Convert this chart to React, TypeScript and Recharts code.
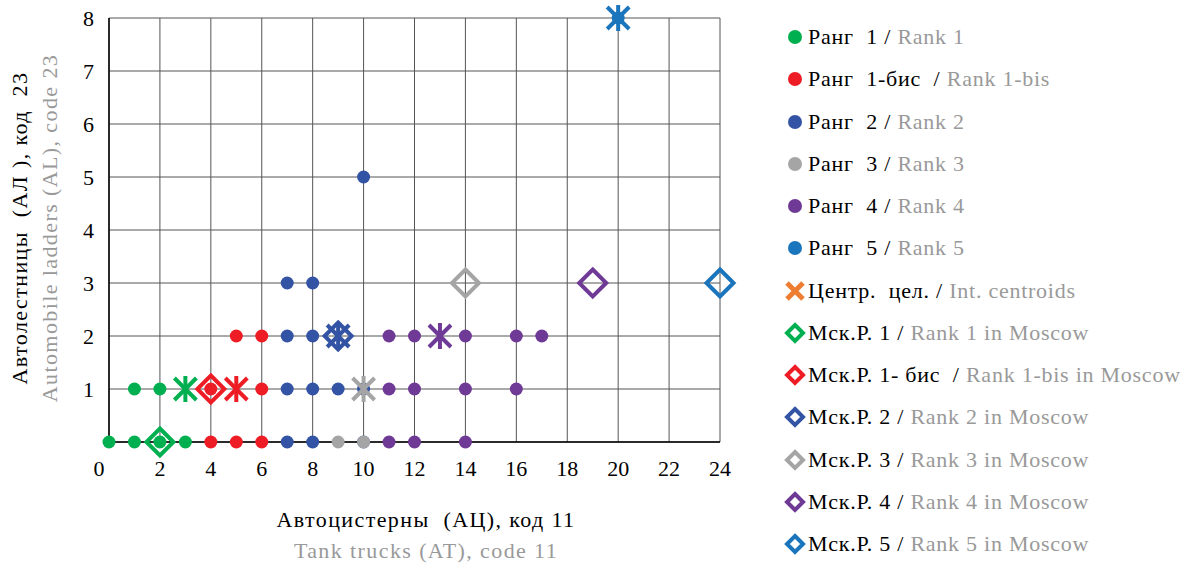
import React from "react";
import { ScatterChart, Scatter, XAxis, YAxis, CartesianGrid } from "recharts";

// observations per rank (x = tank trucks, y = automobile ladders)
const rank1X = [0, 1, 2, 3, 1, 2];
const rank1Y = [0, 0, 0, 0, 1, 1];
const rank1bisX = [4, 5, 6, 4, 6, 5, 6];
const rank1bisY = [0, 0, 0, 1, 1, 2, 2];
const rank2X = [7, 8, 10, 7, 8, 9, 10, 7, 8, 7, 8, 10];
const rank2Y = [0, 0, 0, 1, 1, 1, 1, 2, 2, 3, 3, 5];
const rank3X = [9, 10];
const rank3Y = [0, 0];
const rank4X = [11, 12, 14, 11, 12, 14, 16, 11, 12, 14, 16, 17];
const rank4Y = [0, 0, 0, 1, 1, 1, 1, 2, 2, 2, 2, 2];
const rank5X = [20];
const rank5Y = [8];

// centroids and Moscow values, one per rank
const centroidX = [3, 5, 9, 10, 13, 20];
const centroidY = [1, 1, 2, 1, 2, 8];
const moscowX = [2, 4, 9, 14, 19, 24];
const moscowY = [0, 1, 2, 3, 3, 3];

const xTicks = [0, 2, 4, 6, 8, 10, 12, 14, 16, 18, 20, 22, 24];
const yTicks = [0, 1, 2, 3, 4, 5, 6, 7, 8];

const rankNamesRu = ["Ранг  1", "Ранг  1-бис ", "Ранг  2", "Ранг  3", "Ранг  4", "Ранг  5"];
const rankNamesEn = ["Rank 1", "Rank 1-bis", "Rank 2", "Rank 3", "Rank 4", "Rank 5"];
const moscowNamesRu = ["Мск.Р. 1", "Мск.Р. 1- бис ", "Мск.Р. 2", "Мск.Р. 3", "Мск.Р. 4", "Мск.Р. 5"];

const COLORS = ["#00b050", "#ee1c25", "#3353a4", "#a5a5a5", "#6f3996", "#1b75bc"];
const ORANGE = "#ed7d31";
const FONT = "'Liberation Serif', Tinos, 'Times New Roman', Times, 'DejaVu Serif', serif";
const GREY_TEXT = "#999999";

const zip = (xs: number[], ys: number[], i: number) =>
  xs.map((x, k) => ({ x, y: ys[k], i }));

const rankData = [
  zip(rank1X, rank1Y, 0),
  zip(rank1bisX, rank1bisY, 1),
  zip(rank2X, rank2Y, 2),
  zip(rank3X, rank3Y, 3),
  zip(rank4X, rank4Y, 4),
  zip(rank5X, rank5Y, 5),
];
const centroidData = zip(centroidX, centroidY, 0).map((d, k) => ({ ...d, i: k }));
const moscowData = zip(moscowX, moscowY, 0).map((d, k) => ({ ...d, i: k }));

const Dot = (props: any) => {
  const { cx, cy, payload } = props;
  return <circle cx={cx} cy={cy} r={6.5} fill={COLORS[payload.i]} />;
};

const Star = (props: any) => {
  const { cx, cy, payload } = props;
  const c = COLORS[payload.i];
  return (
    <g stroke={c} strokeWidth={4}>
      <line x1={cx} y1={cy - 13} x2={cx} y2={cy + 13} />
      <line x1={cx - 11} y1={cy - 11} x2={cx + 11} y2={cy + 11} />
      <line x1={cx - 11} y1={cy + 11} x2={cx + 11} y2={cy - 11} />
    </g>
  );
};

const Diamond = (props: any) => {
  const { cx, cy, payload } = props;
  const s = 13.5;
  return (
    <polygon
      points={`${cx},${cy - s} ${cx + s},${cy} ${cx},${cy + s} ${cx - s},${cy}`}
      fill="none"
      stroke={COLORS[payload.i]}
      strokeWidth={4}
    />
  );
};

const XTick = (props: any) => {
  const { x, y, payload } = props;
  return (
    <text
      x={x + (payload.value === 0 ? -10 : 0)}
      y={y}
      dy={14}
      textAnchor="middle"
      fontSize={22}
      style={{ fontFamily: FONT }}
      fill="#000"
    >
      {payload.value}
    </text>
  );
};

const LegendMarker = ({ kind, color }: { kind: string; color: string }) => (
  <svg width={22} height={22} style={{ marginRight: 2 }}>
    {kind === "dot" && <circle cx={11} cy={11} r={7} fill={color} />}
    {kind === "star" && (
      <g stroke={color} strokeWidth={5}>
        <line x1={3} y1={3} x2={19} y2={19} />
        <line x1={3} y1={19} x2={19} y2={3} />
      </g>
    )}
    {kind === "diamond" && (
      <polygon points="11,3 19,11 11,19 3,11" fill="none" stroke={color} strokeWidth={4} />
    )}
  </svg>
);

const legendItems = [
  ...rankNamesRu.map((ru, k) => ({ kind: "dot", color: COLORS[k], ru, en: rankNamesEn[k] })),
  { kind: "star", color: ORANGE, ru: "Центр.  цел.", en: "Int. centroids" },
  ...moscowNamesRu.map((ru, k) => ({
    kind: "diamond",
    color: COLORS[k],
    ru,
    en: rankNamesEn[k] + " in Moscow",
  })),
];

export default function App() {
  return (
    <div
      style={{
        position: "absolute",
        left: 0,
        top: 0,
        width: 1188,
        height: 566,
        background: "#fff",
        fontFamily: FONT,
      }}
    >
      <ScatterChart
        width={760}
        height={566}
        margin={{ top: 18, right: 40, bottom: 94, left: 49 }}
        style={{ fontFamily: FONT }}
      >
        <CartesianGrid stroke="#555" strokeWidth={1} horizontalValues={yTicks} verticalValues={xTicks} />
        <XAxis
          type="number"
          dataKey="x"
          domain={[0, 24]}
          ticks={xTicks}
          interval={0}
          height={30}
          tickLine={false}
          tickSize={0}
          tickMargin={20}
          axisLine={{ stroke: "#000", strokeWidth: 1.5 }}
          tick={<XTick />}
        />
        <YAxis
          type="number"
          dataKey="y"
          domain={[0, 8]}
          ticks={yTicks}
          interval={0}
          width={60}
          tickLine={false}
          tickSize={0}
          tickMargin={15}
          axisLine={{ stroke: "#000", strokeWidth: 1.5 }}
          tickFormatter={(v: number) => (v === 0 ? "" : String(v))}
          tick={{ fontSize: 22, fill: "#000", style: { fontFamily: FONT } }}
        />
        {rankData.map((d, k) => (
          <Scatter key={"r" + k} data={d} shape={<Dot />} isAnimationActive={false} />
        ))}
        <Scatter data={moscowData} shape={<Diamond />} isAnimationActive={false} />
        <Scatter data={centroidData} shape={<Star />} isAnimationActive={false} />
      </ScatterChart>

      <div
        style={{
          position: "absolute",
          left: -165,
          top: 198,
          width: 400,
          height: 60,
          transform: "rotate(-90deg)",
          textAlign: "center",
          fontSize: 22,
          lineHeight: "30px",
          letterSpacing: 1.4,
          whiteSpace: "pre",
        }}
      >
        <div style={{ color: "#000" }}>{"Автолестницы  (АЛ ), код  23"}</div>
        <div style={{ color: GREY_TEXT }}>Automobile ladders (AL), code 23</div>
      </div>

      <div
        style={{
          position: "absolute",
          left: 176,
          top: 504,
          width: 500,
          textAlign: "center",
          fontSize: 22,
          lineHeight: "31px",
          letterSpacing: 1.4,
          whiteSpace: "pre",
        }}
      >
        <div style={{ color: "#000" }}>{"Автоцистерны  (АЦ), код 11"}</div>
        <div style={{ color: GREY_TEXT }}>Tank trucks (AT), code 11</div>
      </div>

      <div style={{ position: "absolute", left: 784, top: 16 }}>
        {legendItems.map((it, k) => (
          <div
            key={k}
            style={{
              height: 42.25,
              display: "flex",
              alignItems: "center",
              fontSize: 22,
              letterSpacing: 0.75,
              whiteSpace: "pre",
            }}
          >
            <LegendMarker kind={it.kind} color={it.color} />
            <span style={{ color: "#000" }}>{it.ru}</span>
            <span style={{ color: "#000" }}>{" / "}</span>
            <span style={{ color: GREY_TEXT }}>{it.en}</span>
          </div>
        ))}
      </div>
    </div>
  );
}
